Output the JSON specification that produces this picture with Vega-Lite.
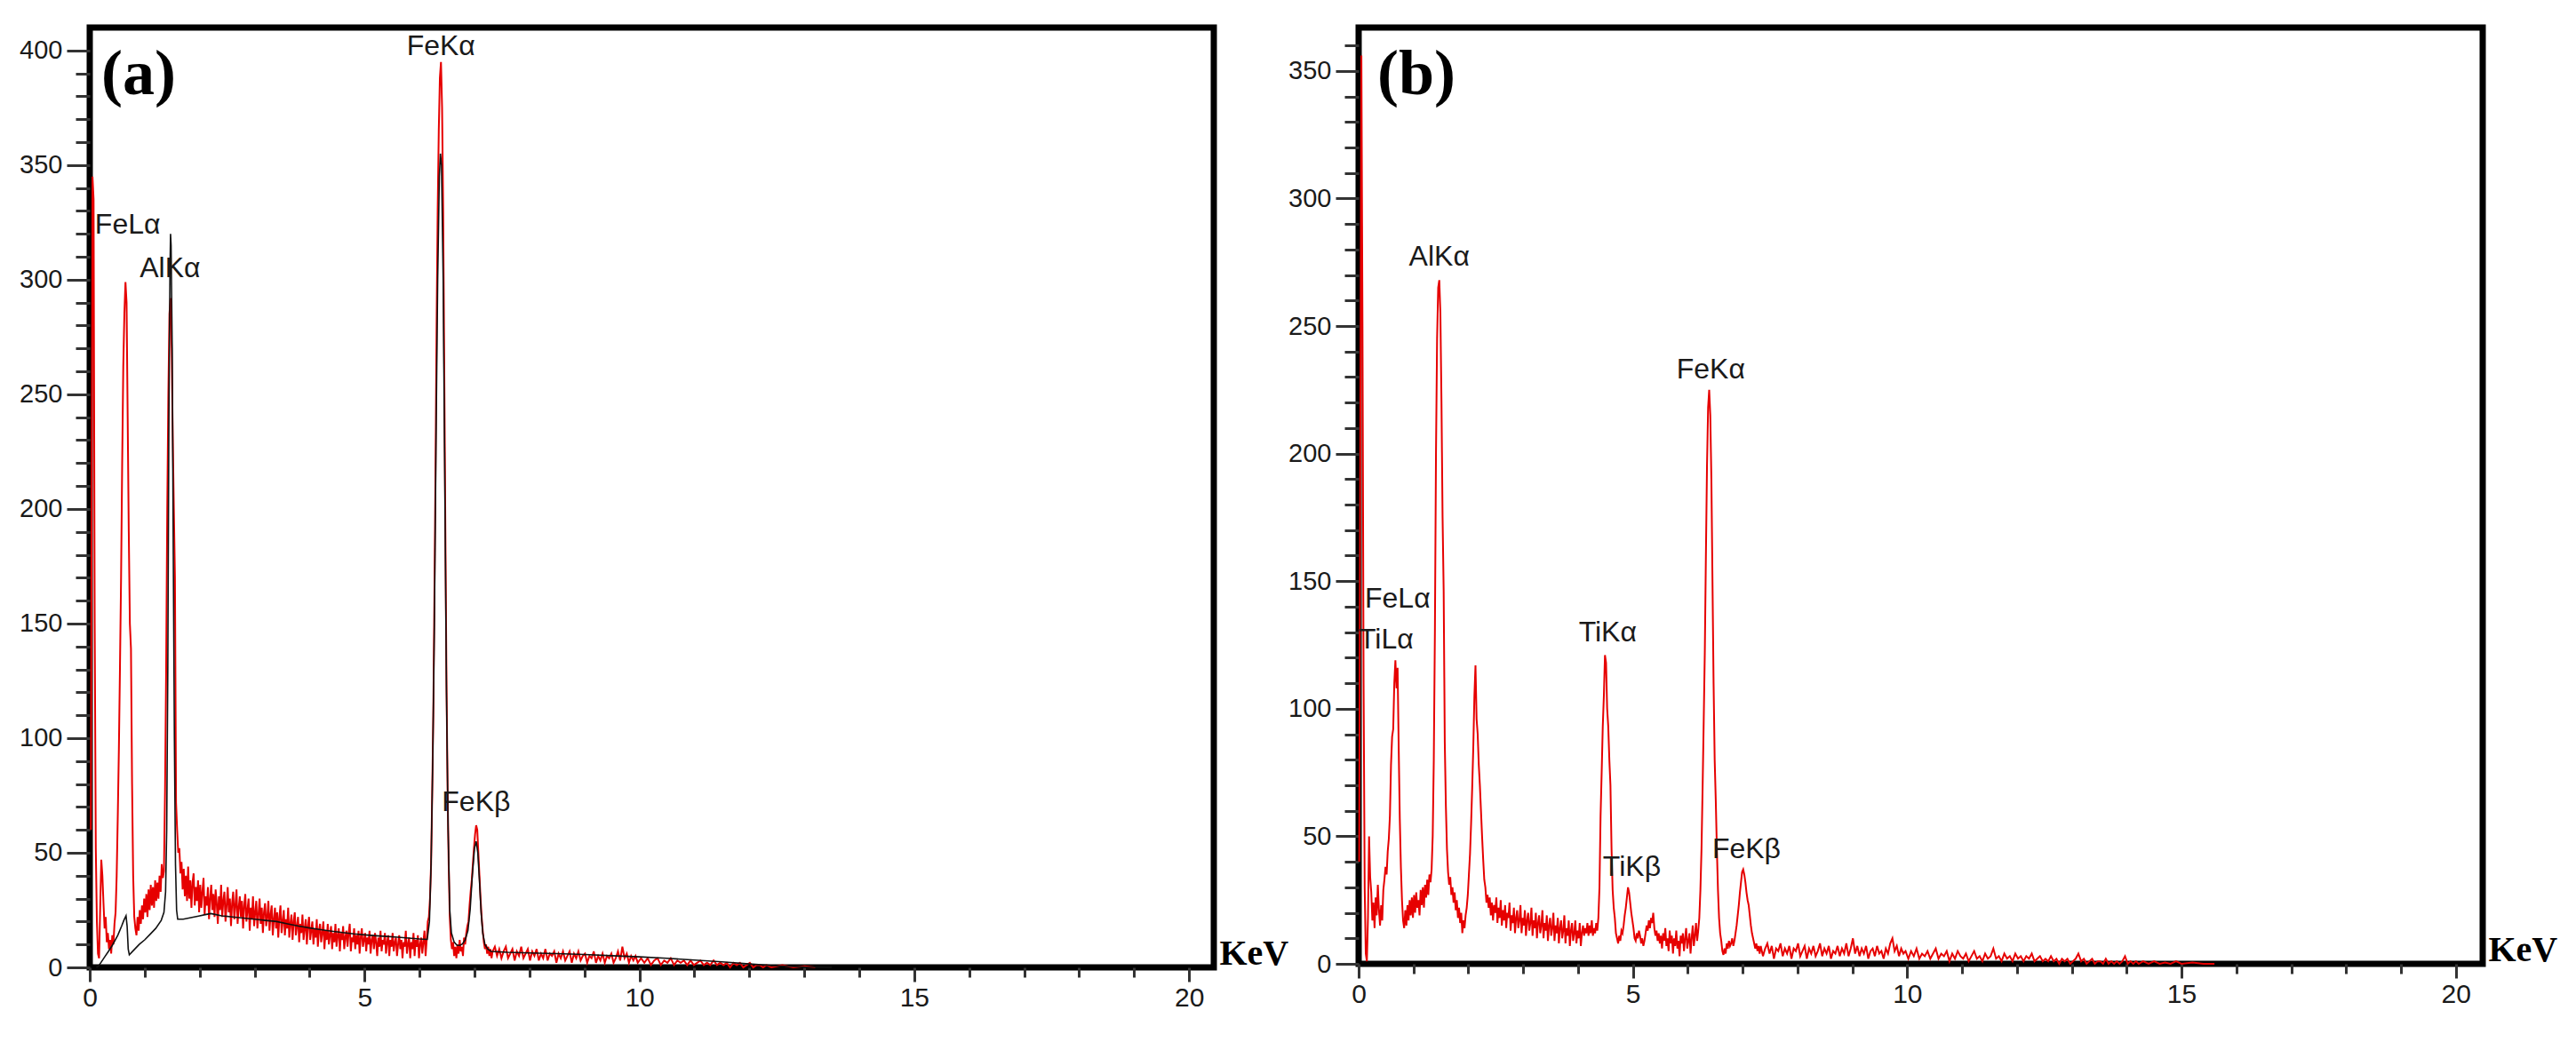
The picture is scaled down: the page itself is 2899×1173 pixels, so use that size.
{
"$schema":"https://vega.github.io/schema/vega-lite/v6.json",
"background":"white",
"padding":{"left":17,"top":27,"right":5,"bottom":5},
"spacing":163,
"bounds":"flush",
"config":{"view":{"stroke":"black","strokeWidth":7},"font":"Liberation Sans","axis":{"grid":false,"domain":false,"tickColor":"#333333","tickWidth":3,"labelColor":"#1a1a1a","labelFont":"Liberation Sans","labelFlush":false,"labelOverlap":false}},
"datasets":{
"aRed":[{"x":0.02,"y":60},{"x":0.05,"y":345},{"x":0.07,"y":335},{"x":0.09,"y":150},{"x":0.11,"y":52},{"x":0.13,"y":20},{"x":0.15,"y":6},{"x":0.17,"y":4},{"x":0.19,"y":26},{"x":0.21,"y":47},{"x":0.23,"y":40},{"x":0.25,"y":28},{"x":0.27,"y":17},{"x":0.29,"y":22},{"x":0.31,"y":11},{"x":0.33,"y":15},{"x":0.35,"y":8},{"x":0.37,"y":12},{"x":0.39,"y":6},{"x":0.41,"y":14},{"x":0.43,"y":10},{"x":0.45,"y":19},{"x":0.47,"y":24},{"x":0.49,"y":40},{"x":0.51,"y":66},{"x":0.53,"y":95},{"x":0.55,"y":131},{"x":0.57,"y":170},{"x":0.59,"y":220},{"x":0.61,"y":262},{"x":0.63,"y":285},{"x":0.65,"y":299},{"x":0.67,"y":290},{"x":0.69,"y":240},{"x":0.71,"y":190},{"x":0.73,"y":150},{"x":0.75,"y":139},{"x":0.77,"y":80},{"x":0.79,"y":40},{"x":0.81,"y":22},{"x":0.83,"y":17},{"x":0.85,"y":14},{"x":0.87,"y":22},{"x":0.89,"y":16},{"x":0.91,"y":25},{"x":0.93,"y":19},{"x":0.95,"y":27},{"x":0.97,"y":21},{"x":0.99,"y":30},{"x":1.01,"y":24},{"x":1.03,"y":32},{"x":1.05,"y":22},{"x":1.07,"y":34},{"x":1.09,"y":25},{"x":1.11,"y":36},{"x":1.13,"y":27},{"x":1.15,"y":35},{"x":1.17,"y":26},{"x":1.19,"y":38},{"x":1.21,"y":29},{"x":1.23,"y":37},{"x":1.25,"y":30},{"x":1.27,"y":40},{"x":1.29,"y":33},{"x":1.31,"y":45},{"x":1.33,"y":39},{"x":1.35,"y":42},{"x":1.37,"y":77},{"x":1.39,"y":130},{"x":1.41,"y":200},{"x":1.43,"y":250},{"x":1.45,"y":285},{"x":1.47,"y":292},{"x":1.49,"y":270},{"x":1.51,"y":232},{"x":1.53,"y":200},{"x":1.55,"y":170},{"x":1.57,"y":72},{"x":1.59,"y":60},{"x":1.61,"y":50},{"x":1.63,"y":52},{"x":1.65,"y":41},{"x":1.67,"y":46},{"x":1.69,"y":34},{"x":1.71,"y":43},{"x":1.73,"y":31},{"x":1.75,"y":40},{"x":1.77,"y":29},{"x":1.79,"y":44},{"x":1.81,"y":30},{"x":1.83,"y":38},{"x":1.85,"y":26},{"x":1.87,"y":37},{"x":1.89,"y":41},{"x":1.91,"y":27},{"x":1.93,"y":35},{"x":1.95,"y":29},{"x":1.97,"y":38},{"x":1.99,"y":24},{"x":2.01,"y":36},{"x":2.03,"y":26},{"x":2.05,"y":33},{"x":2.07,"y":39},{"x":2.09,"y":23},{"x":2.11,"y":31},{"x":2.13,"y":27},{"x":2.15,"y":35},{"x":2.17,"y":21},{"x":2.19,"y":30},{"x":2.21,"y":36},{"x":2.23,"y":25},{"x":2.25,"y":32},{"x":2.27,"y":22},{"x":2.29,"y":34},{"x":2.31,"y":28},{"x":2.33,"y":19},{"x":2.35,"y":31},{"x":2.37,"y":25},{"x":2.39,"y":36},{"x":2.41,"y":22},{"x":2.43,"y":29},{"x":2.45,"y":33},{"x":2.47,"y":20},{"x":2.49,"y":27},{"x":2.51,"y":35},{"x":2.53,"y":24},{"x":2.55,"y":30},{"x":2.57,"y":18},{"x":2.59,"y":28},{"x":2.61,"y":33},{"x":2.63,"y":21},{"x":2.65,"y":27},{"x":2.67,"y":34},{"x":2.69,"y":19},{"x":2.71,"y":26},{"x":2.73,"y":31},{"x":2.75,"y":22},{"x":2.77,"y":29},{"x":2.79,"y":17},{"x":2.81,"y":27},{"x":2.83,"y":32},{"x":2.85,"y":20},{"x":2.87,"y":25},{"x":2.89,"y":30},{"x":2.91,"y":16},{"x":2.93,"y":26},{"x":2.95,"y":21},{"x":2.97,"y":31},{"x":2.99,"y":18},{"x":3.01,"y":24},{"x":3.03,"y":29},{"x":3.05,"y":17},{"x":3.07,"y":23},{"x":3.09,"y":30},{"x":3.11,"y":19},{"x":3.13,"y":26},{"x":3.15,"y":15},{"x":3.17,"y":24},{"x":3.19,"y":28},{"x":3.21,"y":18},{"x":3.23,"y":22},{"x":3.25,"y":29},{"x":3.27,"y":16},{"x":3.29,"y":23},{"x":3.31,"y":27},{"x":3.33,"y":14},{"x":3.35,"y":21},{"x":3.37,"y":26},{"x":3.39,"y":17},{"x":3.41,"y":24},{"x":3.43,"y":13},{"x":3.45,"y":22},{"x":3.47,"y":27},{"x":3.49,"y":15},{"x":3.51,"y":20},{"x":3.53,"y":25},{"x":3.55,"y":14},{"x":3.57,"y":21},{"x":3.59,"y":17},{"x":3.61,"y":26},{"x":3.63,"y":13},{"x":3.65,"y":19},{"x":3.67,"y":23},{"x":3.69,"y":12},{"x":3.71,"y":20},{"x":3.73,"y":24},{"x":3.75,"y":14},{"x":3.77,"y":18},{"x":3.79,"y":22},{"x":3.81,"y":11},{"x":3.83,"y":19},{"x":3.85,"y":15},{"x":3.87,"y":23},{"x":3.89,"y":12},{"x":3.91,"y":17},{"x":3.93,"y":21},{"x":3.95,"y":10},{"x":3.97,"y":18},{"x":3.99,"y":22},{"x":4.01,"y":12},{"x":4.03,"y":16},{"x":4.05,"y":20},{"x":4.07,"y":10},{"x":4.09,"y":17},{"x":4.11,"y":13},{"x":4.13,"y":21},{"x":4.15,"y":9},{"x":4.17,"y":16},{"x":4.19,"y":19},{"x":4.21,"y":11},{"x":4.23,"y":15},{"x":4.25,"y":20},{"x":4.27,"y":8},{"x":4.29,"y":16},{"x":4.31,"y":12},{"x":4.33,"y":19},{"x":4.35,"y":10},{"x":4.37,"y":14},{"x":4.39,"y":18},{"x":4.41,"y":8},{"x":4.43,"y":15},{"x":4.45,"y":11},{"x":4.47,"y":19},{"x":4.49,"y":9},{"x":4.51,"y":14},{"x":4.53,"y":17},{"x":4.55,"y":7},{"x":4.57,"y":15},{"x":4.59,"y":12},{"x":4.61,"y":18},{"x":4.63,"y":8},{"x":4.65,"y":13},{"x":4.67,"y":16},{"x":4.69,"y":9},{"x":4.71,"y":15},{"x":4.73,"y":19},{"x":4.75,"y":7},{"x":4.77,"y":13},{"x":4.79,"y":11},{"x":4.81,"y":17},{"x":4.83,"y":8},{"x":4.85,"y":14},{"x":4.87,"y":10},{"x":4.89,"y":16},{"x":4.91,"y":6},{"x":4.93,"y":13},{"x":4.95,"y":17},{"x":4.97,"y":9},{"x":4.99,"y":12},{"x":5.01,"y":15},{"x":5.03,"y":7},{"x":5.05,"y":13},{"x":5.07,"y":10},{"x":5.09,"y":16},{"x":5.11,"y":6},{"x":5.13,"y":12},{"x":5.15,"y":14},{"x":5.17,"y":8},{"x":5.19,"y":15},{"x":5.21,"y":11},{"x":5.23,"y":5},{"x":5.25,"y":13},{"x":5.27,"y":9},{"x":5.29,"y":16},{"x":5.31,"y":7},{"x":5.33,"y":12},{"x":5.35,"y":10},{"x":5.37,"y":15},{"x":5.39,"y":6},{"x":5.41,"y":11},{"x":5.43,"y":14},{"x":5.45,"y":5},{"x":5.47,"y":12},{"x":5.49,"y":9},{"x":5.51,"y":15},{"x":5.53,"y":7},{"x":5.55,"y":11},{"x":5.57,"y":13},{"x":5.59,"y":5},{"x":5.61,"y":10},{"x":5.63,"y":14},{"x":5.65,"y":8},{"x":5.67,"y":12},{"x":5.69,"y":4},{"x":5.71,"y":11},{"x":5.73,"y":9},{"x":5.75,"y":16},{"x":5.77,"y":6},{"x":5.79,"y":10},{"x":5.81,"y":13},{"x":5.83,"y":4},{"x":5.85,"y":11},{"x":5.87,"y":8},{"x":5.89,"y":15},{"x":5.91,"y":5},{"x":5.93,"y":12},{"x":5.95,"y":9},{"x":5.97,"y":14},{"x":5.99,"y":4},{"x":6.01,"y":10},{"x":6.03,"y":13},{"x":6.05,"y":6},{"x":6.07,"y":11},{"x":6.09,"y":16},{"x":6.11,"y":5},{"x":6.13,"y":12},{"x":6.15,"y":20},{"x":6.17,"y":22},{"x":6.19,"y":30},{"x":6.21,"y":45},{"x":6.23,"y":75},{"x":6.25,"y":110},{"x":6.27,"y":160},{"x":6.29,"y":215},{"x":6.31,"y":280},{"x":6.33,"y":330},{"x":6.35,"y":365},{"x":6.37,"y":388},{"x":6.39,"y":395},{"x":6.41,"y":375},{"x":6.43,"y":330},{"x":6.45,"y":260},{"x":6.47,"y":190},{"x":6.49,"y":125},{"x":6.51,"y":78},{"x":6.53,"y":45},{"x":6.55,"y":22},{"x":6.57,"y":12},{"x":6.59,"y":8},{"x":6.61,"y":11},{"x":6.63,"y":5},{"x":6.65,"y":9},{"x":6.67,"y":4},{"x":6.69,"y":10},{"x":6.71,"y":6},{"x":6.73,"y":12},{"x":6.75,"y":7},{"x":6.77,"y":9},{"x":6.79,"y":5},{"x":6.81,"y":13},{"x":6.83,"y":10},{"x":6.85,"y":15},{"x":6.87,"y":18},{"x":6.89,"y":20},{"x":6.91,"y":27},{"x":6.93,"y":33},{"x":6.95,"y":38},{"x":6.97,"y":45},{"x":6.99,"y":52},{"x":7.01,"y":58},{"x":7.03,"y":62},{"x":7.05,"y":60},{"x":7.07,"y":50},{"x":7.09,"y":40},{"x":7.11,"y":30},{"x":7.13,"y":22},{"x":7.15,"y":16},{"x":7.17,"y":11},{"x":7.19,"y":8},{"x":7.21,"y":10},{"x":7.23,"y":6},{"x":7.25,"y":9},{"x":7.27,"y":5},{"x":7.29,"y":8},{"x":7.31,"y":4},{"x":7.33,"y":7},{"x":7.37,"y":9},{"x":7.41,"y":5},{"x":7.45,"y":8},{"x":7.49,"y":4},{"x":7.53,"y":7},{"x":7.57,"y":9},{"x":7.61,"y":4},{"x":7.65,"y":6},{"x":7.69,"y":8},{"x":7.73,"y":3},{"x":7.77,"y":7},{"x":7.81,"y":5},{"x":7.85,"y":9},{"x":7.89,"y":4},{"x":7.93,"y":6},{"x":7.97,"y":8},{"x":8.01,"y":3},{"x":8.05,"y":7},{"x":8.09,"y":5},{"x":8.13,"y":8},{"x":8.17,"y":3},{"x":8.21,"y":6},{"x":8.25,"y":4},{"x":8.29,"y":8},{"x":8.33,"y":3},{"x":8.37,"y":6},{"x":8.41,"y":5},{"x":8.45,"y":7},{"x":8.49,"y":2},{"x":8.53,"y":6},{"x":8.57,"y":4},{"x":8.61,"y":7},{"x":8.65,"y":3},{"x":8.69,"y":5},{"x":8.73,"y":7},{"x":8.77,"y":2},{"x":8.81,"y":6},{"x":8.85,"y":4},{"x":8.89,"y":7},{"x":8.93,"y":3},{"x":8.97,"y":5},{"x":9.01,"y":6},{"x":9.05,"y":2},{"x":9.09,"y":5},{"x":9.13,"y":4},{"x":9.17,"y":7},{"x":9.21,"y":2},{"x":9.25,"y":5},{"x":9.29,"y":3},{"x":9.33,"y":6},{"x":9.37,"y":2},{"x":9.41,"y":5},{"x":9.45,"y":4},{"x":9.49,"y":6},{"x":9.53,"y":2},{"x":9.57,"y":4},{"x":9.61,"y":7},{"x":9.65,"y":3},{"x":9.69,"y":9},{"x":9.73,"y":4},{"x":9.77,"y":6},{"x":9.81,"y":2},{"x":9.85,"y":5},{"x":9.89,"y":3},{"x":9.93,"y":5},{"x":9.97,"y":2},{"x":10.03,"y":4},{"x":10.09,"y":2},{"x":10.15,"y":4},{"x":10.21,"y":1},{"x":10.27,"y":3},{"x":10.33,"y":4},{"x":10.39,"y":1},{"x":10.45,"y":3},{"x":10.51,"y":2},{"x":10.57,"y":4},{"x":10.63,"y":1},{"x":10.69,"y":3},{"x":10.75,"y":2},{"x":10.81,"y":3},{"x":10.87,"y":1},{"x":10.93,"y":3},{"x":10.99,"y":1},{"x":11.05,"y":2},{"x":11.11,"y":3},{"x":11.17,"y":1},{"x":11.23,"y":2},{"x":11.29,"y":1},{"x":11.35,"y":3},{"x":11.41,"y":1},{"x":11.47,"y":2},{"x":11.53,"y":1},{"x":11.59,"y":2},{"x":11.65,"y":0},{"x":11.71,"y":2},{"x":11.77,"y":1},{"x":11.83,"y":2},{"x":11.89,"y":0},{"x":11.95,"y":1},{"x":12.01,"y":2},{"x":12.07,"y":0},{"x":12.13,"y":1},{"x":12.19,"y":1},{"x":12.25,"y":0},{"x":12.31,"y":1},{"x":12.4,"y":0},{"x":12.6,"y":1},{"x":12.8,"y":0},{"x":13.0,"y":0.5},{"x":13.2,"y":0}],
"aBlack":[{"x":0.12,"y":0},{"x":0.16,"y":0.6},{"x":0.2,"y":2},{"x":0.27,"y":4.5},{"x":0.34,"y":7},{"x":0.41,"y":9.6},{"x":0.51,"y":14},{"x":0.58,"y":18},{"x":0.62,"y":20.5},{"x":0.66,"y":22.5},{"x":0.68,"y":18},{"x":0.7,"y":8},{"x":0.72,"y":5.5},{"x":0.8,"y":7.5},{"x":0.9,"y":10},{"x":1.0,"y":12},{"x":1.1,"y":14.5},{"x":1.2,"y":17},{"x":1.3,"y":20.5},{"x":1.35,"y":24},{"x":1.38,"y":33},{"x":1.4,"y":60},{"x":1.42,"y":130},{"x":1.44,"y":240},{"x":1.46,"y":305},{"x":1.47,"y":320},{"x":1.48,"y":315},{"x":1.5,"y":270},{"x":1.52,"y":180},{"x":1.54,"y":100},{"x":1.56,"y":45},{"x":1.58,"y":25},{"x":1.6,"y":21},{"x":1.7,"y":21},{"x":1.8,"y":21.5},{"x":1.9,"y":22},{"x":2.0,"y":22.5},{"x":2.1,"y":23},{"x":2.2,"y":23.5},{"x":2.3,"y":23},{"x":2.4,"y":22.5},{"x":2.6,"y":22},{"x":2.8,"y":21.5},{"x":3.0,"y":21},{"x":3.2,"y":20.5},{"x":3.4,"y":20},{"x":3.6,"y":19},{"x":3.8,"y":18},{"x":4.0,"y":17.2},{"x":4.2,"y":16.5},{"x":4.4,"y":15.8},{"x":4.6,"y":15.2},{"x":4.8,"y":14.6},{"x":5.0,"y":14.2},{"x":5.2,"y":13.8},{"x":5.4,"y":13.5},{"x":5.6,"y":13.2},{"x":5.8,"y":12.8},{"x":6.0,"y":12.4},{"x":6.14,"y":12.2},{"x":6.18,"y":20},{"x":6.21,"y":45},{"x":6.24,"y":90},{"x":6.27,"y":150},{"x":6.3,"y":230},{"x":6.33,"y":300},{"x":6.36,"y":345},{"x":6.38,"y":355},{"x":6.4,"y":350},{"x":6.43,"y":300},{"x":6.46,"y":210},{"x":6.49,"y":120},{"x":6.52,"y":60},{"x":6.55,"y":25},{"x":6.58,"y":15},{"x":6.63,"y":11},{"x":6.68,"y":9.7},{"x":6.73,"y":9.6},{"x":6.78,"y":10.2},{"x":6.83,"y":12},{"x":6.88,"y":16},{"x":6.92,"y":25},{"x":6.96,"y":40},{"x":7.0,"y":52},{"x":7.03,"y":55},{"x":7.06,"y":50},{"x":7.09,"y":38},{"x":7.12,"y":24},{"x":7.15,"y":15},{"x":7.19,"y":10},{"x":7.24,"y":8},{"x":7.3,"y":7},{"x":7.6,"y":6.6},{"x":8.0,"y":6.3},{"x":8.5,"y":6},{"x":9.0,"y":5.6},{"x":9.5,"y":5.1},{"x":10.0,"y":4.6},{"x":10.5,"y":4},{"x":11.0,"y":3.2},{"x":11.5,"y":2.4},{"x":12.0,"y":1.5},{"x":12.5,"y":0.7},{"x":13.0,"y":0.2},{"x":13.5,"y":0}],
"bRed":[{"x":0.01,"y":40},{"x":0.03,"y":200},{"x":0.05,"y":356},{"x":0.07,"y":250},{"x":0.09,"y":110},{"x":0.11,"y":30},{"x":0.13,"y":4},{"x":0.15,"y":1},{"x":0.17,"y":18},{"x":0.19,"y":50},{"x":0.21,"y":34},{"x":0.23,"y":28},{"x":0.25,"y":17},{"x":0.27,"y":24},{"x":0.29,"y":14},{"x":0.31,"y":26},{"x":0.33,"y":19},{"x":0.35,"y":31},{"x":0.37,"y":21},{"x":0.39,"y":15},{"x":0.41,"y":23},{"x":0.43,"y":17},{"x":0.45,"y":29},{"x":0.47,"y":33},{"x":0.49,"y":38},{"x":0.51,"y":35},{"x":0.53,"y":44},{"x":0.55,"y":49},{"x":0.57,"y":58},{"x":0.59,"y":78},{"x":0.61,"y":89},{"x":0.63,"y":92},{"x":0.65,"y":110},{"x":0.67,"y":119},{"x":0.69,"y":108},{"x":0.71,"y":116},{"x":0.73,"y":85},{"x":0.75,"y":57},{"x":0.77,"y":38},{"x":0.79,"y":25},{"x":0.81,"y":17},{"x":0.83,"y":14},{"x":0.85,"y":21},{"x":0.87,"y":15},{"x":0.89,"y":23},{"x":0.91,"y":17},{"x":0.93,"y":25},{"x":0.95,"y":19},{"x":0.97,"y":26},{"x":0.99,"y":18},{"x":1.01,"y":27},{"x":1.03,"y":20},{"x":1.05,"y":28},{"x":1.07,"y":22},{"x":1.09,"y":25},{"x":1.11,"y":19},{"x":1.13,"y":29},{"x":1.15,"y":23},{"x":1.17,"y":30},{"x":1.19,"y":22},{"x":1.21,"y":31},{"x":1.23,"y":26},{"x":1.25,"y":33},{"x":1.27,"y":27},{"x":1.29,"y":35},{"x":1.31,"y":32},{"x":1.33,"y":37},{"x":1.35,"y":50},{"x":1.37,"y":80},{"x":1.39,"y":130},{"x":1.41,"y":200},{"x":1.43,"y":245},{"x":1.45,"y":265},{"x":1.47,"y":268},{"x":1.49,"y":255},{"x":1.51,"y":220},{"x":1.53,"y":175},{"x":1.55,"y":146},{"x":1.57,"y":87},{"x":1.59,"y":62},{"x":1.61,"y":45},{"x":1.63,"y":36},{"x":1.65,"y":31},{"x":1.67,"y":34},{"x":1.69,"y":27},{"x":1.71,"y":30},{"x":1.73,"y":24},{"x":1.75,"y":28},{"x":1.77,"y":21},{"x":1.79,"y":25},{"x":1.81,"y":18},{"x":1.83,"y":22},{"x":1.85,"y":16},{"x":1.87,"y":20},{"x":1.89,"y":12},{"x":1.91,"y":17},{"x":1.93,"y":14},{"x":1.95,"y":19},{"x":1.97,"y":22},{"x":1.99,"y":27},{"x":2.01,"y":35},{"x":2.03,"y":43},{"x":2.05,"y":55},{"x":2.07,"y":69},{"x":2.09,"y":85},{"x":2.11,"y":105},{"x":2.13,"y":117},{"x":2.15,"y":96},{"x":2.17,"y":90},{"x":2.19,"y":78},{"x":2.21,"y":70},{"x":2.23,"y":60},{"x":2.25,"y":50},{"x":2.27,"y":41},{"x":2.29,"y":33},{"x":2.31,"y":30},{"x":2.33,"y":24},{"x":2.35,"y":27},{"x":2.37,"y":22},{"x":2.39,"y":26},{"x":2.41,"y":19},{"x":2.43,"y":24},{"x":2.45,"y":17},{"x":2.47,"y":23},{"x":2.49,"y":20},{"x":2.51,"y":26},{"x":2.53,"y":16},{"x":2.55,"y":22},{"x":2.57,"y":18},{"x":2.59,"y":25},{"x":2.61,"y":15},{"x":2.63,"y":21},{"x":2.65,"y":17},{"x":2.67,"y":23},{"x":2.69,"y":14},{"x":2.71,"y":20},{"x":2.73,"y":18},{"x":2.75,"y":24},{"x":2.77,"y":13},{"x":2.79,"y":19},{"x":2.81,"y":16},{"x":2.83,"y":22},{"x":2.85,"y":12},{"x":2.87,"y":18},{"x":2.89,"y":21},{"x":2.91,"y":14},{"x":2.93,"y":17},{"x":2.95,"y":23},{"x":2.97,"y":12},{"x":2.99,"y":18},{"x":3.01,"y":15},{"x":3.03,"y":21},{"x":3.05,"y":11},{"x":3.07,"y":17},{"x":3.09,"y":20},{"x":3.11,"y":13},{"x":3.13,"y":16},{"x":3.15,"y":22},{"x":3.17,"y":11},{"x":3.19,"y":17},{"x":3.21,"y":14},{"x":3.23,"y":20},{"x":3.25,"y":10},{"x":3.27,"y":16},{"x":3.29,"y":19},{"x":3.31,"y":12},{"x":3.33,"y":15},{"x":3.35,"y":21},{"x":3.37,"y":10},{"x":3.39,"y":16},{"x":3.41,"y":13},{"x":3.43,"y":19},{"x":3.45,"y":9},{"x":3.47,"y":15},{"x":3.49,"y":18},{"x":3.51,"y":11},{"x":3.53,"y":14},{"x":3.55,"y":20},{"x":3.57,"y":9},{"x":3.59,"y":15},{"x":3.61,"y":12},{"x":3.63,"y":18},{"x":3.65,"y":8},{"x":3.67,"y":14},{"x":3.69,"y":17},{"x":3.71,"y":10},{"x":3.73,"y":13},{"x":3.75,"y":19},{"x":3.77,"y":8},{"x":3.79,"y":14},{"x":3.81,"y":11},{"x":3.83,"y":17},{"x":3.85,"y":7},{"x":3.87,"y":13},{"x":3.89,"y":16},{"x":3.91,"y":9},{"x":3.93,"y":12},{"x":3.95,"y":17},{"x":3.97,"y":8},{"x":3.99,"y":13},{"x":4.01,"y":10},{"x":4.03,"y":16},{"x":4.05,"y":7},{"x":4.07,"y":12},{"x":4.09,"y":15},{"x":4.11,"y":11},{"x":4.13,"y":14},{"x":4.15,"y":12},{"x":4.17,"y":16},{"x":4.19,"y":11},{"x":4.21,"y":15},{"x":4.23,"y":12},{"x":4.25,"y":17},{"x":4.27,"y":11},{"x":4.29,"y":14},{"x":4.31,"y":12},{"x":4.33,"y":16},{"x":4.35,"y":13},{"x":4.37,"y":18},{"x":4.39,"y":30},{"x":4.41,"y":58},{"x":4.43,"y":75},{"x":4.45,"y":93},{"x":4.47,"y":105},{"x":4.49,"y":121},{"x":4.51,"y":118},{"x":4.53,"y":100},{"x":4.55,"y":93},{"x":4.57,"y":80},{"x":4.59,"y":70},{"x":4.61,"y":45},{"x":4.63,"y":29},{"x":4.65,"y":22},{"x":4.67,"y":18},{"x":4.69,"y":12},{"x":4.71,"y":10},{"x":4.73,"y":8},{"x":4.75,"y":11},{"x":4.77,"y":9},{"x":4.79,"y":13},{"x":4.81,"y":12},{"x":4.83,"y":15},{"x":4.85,"y":19},{"x":4.87,"y":22},{"x":4.89,"y":26},{"x":4.91,"y":30},{"x":4.93,"y":28},{"x":4.95,"y":24},{"x":4.97,"y":20},{"x":4.99,"y":17},{"x":5.01,"y":14},{"x":5.03,"y":10},{"x":5.05,"y":9},{"x":5.07,"y":12},{"x":5.09,"y":10},{"x":5.11,"y":13},{"x":5.13,"y":11},{"x":5.15,"y":8},{"x":5.17,"y":10},{"x":5.19,"y":7},{"x":5.21,"y":9},{"x":5.23,"y":12},{"x":5.25,"y":15},{"x":5.27,"y":13},{"x":5.29,"y":17},{"x":5.31,"y":14},{"x":5.33,"y":18},{"x":5.35,"y":16},{"x":5.37,"y":20},{"x":5.39,"y":14},{"x":5.41,"y":11},{"x":5.43,"y":13},{"x":5.45,"y":9},{"x":5.47,"y":12},{"x":5.49,"y":8},{"x":5.51,"y":11},{"x":5.53,"y":6},{"x":5.55,"y":12},{"x":5.57,"y":9},{"x":5.59,"y":14},{"x":5.61,"y":7},{"x":5.63,"y":10},{"x":5.65,"y":5},{"x":5.67,"y":13},{"x":5.69,"y":8},{"x":5.71,"y":11},{"x":5.73,"y":4},{"x":5.75,"y":10},{"x":5.77,"y":7},{"x":5.79,"y":13},{"x":5.81,"y":6},{"x":5.83,"y":9},{"x":5.85,"y":3},{"x":5.87,"y":11},{"x":5.89,"y":8},{"x":5.91,"y":12},{"x":5.93,"y":5},{"x":5.95,"y":10},{"x":5.97,"y":14},{"x":5.99,"y":6},{"x":6.01,"y":9},{"x":6.03,"y":12},{"x":6.05,"y":4},{"x":6.07,"y":10},{"x":6.09,"y":15},{"x":6.11,"y":7},{"x":6.13,"y":11},{"x":6.15,"y":16},{"x":6.17,"y":9},{"x":6.19,"y":13},{"x":6.21,"y":18},{"x":6.23,"y":29},{"x":6.25,"y":45},{"x":6.27,"y":69},{"x":6.29,"y":95},{"x":6.31,"y":122},{"x":6.33,"y":160},{"x":6.35,"y":195},{"x":6.37,"y":218},{"x":6.39,"y":225},{"x":6.41,"y":215},{"x":6.43,"y":190},{"x":6.45,"y":150},{"x":6.47,"y":110},{"x":6.49,"y":80},{"x":6.51,"y":64},{"x":6.53,"y":45},{"x":6.55,"y":29},{"x":6.57,"y":18},{"x":6.59,"y":12},{"x":6.61,"y":9},{"x":6.63,"y":5},{"x":6.65,"y":3.5},{"x":6.67,"y":6},{"x":6.69,"y":4},{"x":6.71,"y":8},{"x":6.73,"y":6},{"x":6.75,"y":9},{"x":6.77,"y":7},{"x":6.79,"y":8},{"x":6.81,"y":10},{"x":6.83,"y":7},{"x":6.85,"y":9},{"x":6.87,"y":12},{"x":6.89,"y":15},{"x":6.91,"y":19},{"x":6.93,"y":23},{"x":6.95,"y":28},{"x":6.97,"y":32},{"x":6.99,"y":36},{"x":7.01,"y":37},{"x":7.03,"y":35},{"x":7.05,"y":32},{"x":7.07,"y":28},{"x":7.09,"y":25},{"x":7.11,"y":23},{"x":7.13,"y":19},{"x":7.15,"y":15},{"x":7.17,"y":12},{"x":7.19,"y":10},{"x":7.21,"y":8},{"x":7.23,"y":6},{"x":7.25,"y":8},{"x":7.27,"y":5},{"x":7.29,"y":7},{"x":7.31,"y":4},{"x":7.33,"y":7},{"x":7.37,"y":3},{"x":7.41,"y":6},{"x":7.45,"y":8},{"x":7.49,"y":4},{"x":7.53,"y":7},{"x":7.57,"y":2},{"x":7.61,"y":6},{"x":7.65,"y":5},{"x":7.69,"y":8},{"x":7.73,"y":3},{"x":7.77,"y":6},{"x":7.81,"y":4},{"x":7.85,"y":7},{"x":7.89,"y":2},{"x":7.93,"y":6},{"x":7.97,"y":5},{"x":8.01,"y":8},{"x":8.05,"y":3},{"x":8.09,"y":5},{"x":8.13,"y":7},{"x":8.17,"y":2},{"x":8.21,"y":6},{"x":8.25,"y":4},{"x":8.29,"y":7},{"x":8.33,"y":3},{"x":8.37,"y":5},{"x":8.41,"y":8},{"x":8.45,"y":3},{"x":8.49,"y":6},{"x":8.53,"y":4},{"x":8.57,"y":7},{"x":8.61,"y":2},{"x":8.65,"y":5},{"x":8.69,"y":4},{"x":8.73,"y":7},{"x":8.77,"y":3},{"x":8.81,"y":6},{"x":8.85,"y":4},{"x":8.89,"y":8},{"x":8.93,"y":3},{"x":8.97,"y":6},{"x":9.01,"y":10},{"x":9.05,"y":4},{"x":9.09,"y":7},{"x":9.13,"y":3},{"x":9.17,"y":6},{"x":9.21,"y":4},{"x":9.25,"y":7},{"x":9.29,"y":2},{"x":9.33,"y":5},{"x":9.37,"y":6},{"x":9.41,"y":3},{"x":9.45,"y":7},{"x":9.49,"y":4},{"x":9.53,"y":5},{"x":9.57,"y":2},{"x":9.61,"y":6},{"x":9.65,"y":4},{"x":9.69,"y":8},{"x":9.73,"y":10},{"x":9.77,"y":5},{"x":9.81,"y":7},{"x":9.85,"y":3},{"x":9.89,"y":6},{"x":9.93,"y":4},{"x":9.97,"y":5},{"x":10.02,"y":2},{"x":10.07,"y":5},{"x":10.12,"y":3},{"x":10.17,"y":6},{"x":10.22,"y":2},{"x":10.27,"y":4},{"x":10.32,"y":3},{"x":10.37,"y":5},{"x":10.42,"y":2},{"x":10.47,"y":4},{"x":10.52,"y":6},{"x":10.57,"y":2},{"x":10.62,"y":4},{"x":10.67,"y":3},{"x":10.72,"y":5},{"x":10.77,"y":1},{"x":10.82,"y":4},{"x":10.87,"y":2},{"x":10.92,"y":5},{"x":10.97,"y":3},{"x":11.02,"y":2},{"x":11.07,"y":4},{"x":11.12,"y":1},{"x":11.17,"y":3},{"x":11.22,"y":5},{"x":11.27,"y":2},{"x":11.32,"y":3},{"x":11.37,"y":1},{"x":11.42,"y":4},{"x":11.47,"y":2},{"x":11.52,"y":3},{"x":11.57,"y":6},{"x":11.62,"y":2},{"x":11.67,"y":3},{"x":11.72,"y":1},{"x":11.77,"y":4},{"x":11.82,"y":2},{"x":11.87,"y":3},{"x":11.92,"y":1},{"x":11.97,"y":4},{"x":12.02,"y":2},{"x":12.07,"y":3},{"x":12.12,"y":1},{"x":12.17,"y":3},{"x":12.22,"y":2},{"x":12.27,"y":4},{"x":12.32,"y":1},{"x":12.37,"y":2},{"x":12.42,"y":3},{"x":12.47,"y":1},{"x":12.52,"y":2},{"x":12.57,"y":1},{"x":12.62,"y":3},{"x":12.67,"y":1},{"x":12.72,"y":2},{"x":12.77,"y":0},{"x":12.82,"y":2},{"x":12.87,"y":1},{"x":12.92,"y":2},{"x":12.97,"y":0},{"x":13.02,"y":1},{"x":13.07,"y":2},{"x":13.12,"y":4},{"x":13.17,"y":1},{"x":13.22,"y":2},{"x":13.27,"y":0},{"x":13.32,"y":1},{"x":13.37,"y":2},{"x":13.42,"y":0},{"x":13.47,"y":1},{"x":13.52,"y":1},{"x":13.57,"y":0},{"x":13.62,"y":2},{"x":13.67,"y":0},{"x":13.72,"y":1},{"x":13.77,"y":0},{"x":13.82,"y":1},{"x":13.87,"y":0},{"x":13.92,"y":1},{"x":13.97,"y":3},{"x":14.02,"y":0},{"x":14.07,"y":1},{"x":14.12,"y":0},{"x":14.17,"y":1},{"x":14.22,"y":0},{"x":14.3,"y":1},{"x":14.4,"y":0},{"x":14.5,"y":1},{"x":14.6,"y":0},{"x":14.7,"y":0.5},{"x":14.8,"y":0},{"x":14.9,"y":1},{"x":15.0,"y":0},{"x":15.2,"y":0.5},{"x":15.4,"y":0},{"x":15.6,"y":0}],
"aLab":[{"t":"FeKα","x":6.39,"y":402},{"t":"FeLα","x":0.69,"y":324},{"t":"AlKα","x":1.46,"y":305},{"t":"FeKβ","x":7.03,"y":72}],
"aTag":[{"t":"(a)","x":0.21,"y":381}],
"bLab":[{"t":"AlKα","x":1.47,"y":277},{"t":"FeKα","x":6.42,"y":233},{"t":"FeLα","x":0.71,"y":143},{"t":"TiLα","x":0.5,"y":127},{"t":"TiKα","x":4.54,"y":130},{"t":"TiKβ","x":4.98,"y":38},{"t":"FeKβ","x":7.07,"y":45}],
"bTag":[{"t":"(b)","x":0.34,"y":341}]
},
"hconcat":[
{
"width":1265,"height":1058,
"encoding":{
"x":{"field":"x","type":"quantitative","scale":{"domain":[0,20.45],"nice":false,"zero":false},"axis":{"values":[0,1,2,3,4,5,6,7,8,9,10,11,12,13,14,15,16,17,18,19,20],"labelExpr":"datum.value % 5 === 0 ? datum.label : ''","tickSize":{"condition":{"test":"datum.value % 5 === 0","value":16},"value":11},"labelFontSize":30,"labelPadding":3,"title":"KeV","titleFont":"Liberation Serif","titleFontWeight":"bold","titleFontSize":40,"titleColor":"black","titleAngle":0,"titleAlign":"left","titleBaseline":"alphabetic","titleX":1271,"titleY":-4}},
"y":{"field":"y","type":"quantitative","scale":{"domain":[0,410],"nice":false,"zero":false},"axis":{"values":[0,10,20,30,40,50,60,70,80,90,100,110,120,130,140,150,160,170,180,190,200,210,220,230,240,250,260,270,280,290,300,310,320,330,340,350,360,370,380,390,400],"labelExpr":"datum.value % 50 === 0 ? datum.label : ''","tickSize":{"condition":{"test":"datum.value % 50 === 0","value":26},"value":16},"labelFontSize":29,"labelPadding":5,"title":null,"minExtent":80,"maxExtent":80}}
},
"layer":[
{"data":{"name":"aRed"},"mark":{"type":"line","color":"#e60000","strokeWidth":2}},
{"data":{"name":"aBlack"},"mark":{"type":"line","color":"#111111","strokeWidth":1.6}},
{"data":{"name":"aLab"},"mark":{"type":"text","fontSize":32,"color":"#1a1a1a","font":"Liberation Sans"},"encoding":{"text":{"field":"t"}}},
{"data":{"name":"aTag"},"mark":{"type":"text","fontSize":72,"font":"Liberation Serif","fontWeight":"bold","color":"black","align":"left","baseline":"alphabetic"},"encoding":{"text":{"field":"t"}}}
]
},
{
"width":1265,"height":1054,
"encoding":{
"x":{"field":"x","type":"quantitative","scale":{"domain":[0,20.49],"nice":false,"zero":false},"axis":{"values":[0,1,2,3,4,5,6,7,8,9,10,11,12,13,14,15,16,17,18,19,20],"labelExpr":"datum.value % 5 === 0 ? datum.label : ''","tickSize":{"condition":{"test":"datum.value % 5 === 0","value":16},"value":11},"labelFontSize":30,"labelPadding":3,"title":"KeV","titleFont":"Liberation Serif","titleFontWeight":"bold","titleFontSize":40,"titleColor":"black","titleAngle":0,"titleAlign":"left","titleBaseline":"alphabetic","titleX":1271,"titleY":-4}},
"y":{"field":"y","type":"quantitative","scale":{"domain":[0,367],"nice":false,"zero":false},"axis":{"values":[0,10,20,30,40,50,60,70,80,90,100,110,120,130,140,150,160,170,180,190,200,210,220,230,240,250,260,270,280,290,300,310,320,330,340,350,360],"labelExpr":"datum.value % 50 === 0 ? datum.label : ''","tickSize":{"condition":{"test":"datum.value % 50 === 0","value":26},"value":16},"labelFontSize":29,"labelPadding":5,"title":null,"minExtent":80,"maxExtent":80}}
},
"layer":[
{"data":{"name":"bRed"},"mark":{"type":"line","color":"#e60000","strokeWidth":2}},
{"data":{"name":"bLab"},"mark":{"type":"text","fontSize":32,"color":"#1a1a1a","font":"Liberation Sans"},"encoding":{"text":{"field":"t"}}},
{"data":{"name":"bTag"},"mark":{"type":"text","fontSize":72,"font":"Liberation Serif","fontWeight":"bold","color":"black","align":"left","baseline":"alphabetic"},"encoding":{"text":{"field":"t"}}}
]
}
]
}
